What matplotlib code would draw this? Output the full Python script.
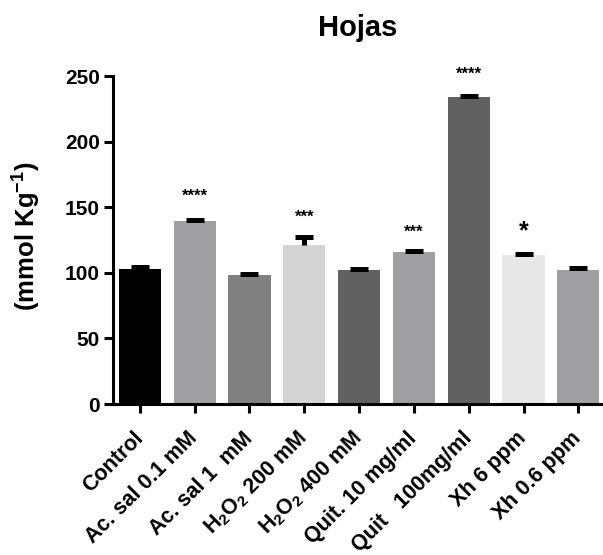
import numpy as np
import matplotlib.pyplot as plt

plt.rcParams['font.family'] = ['Liberation Sans', 'DejaVu Sans']
plt.rcParams['font.weight'] = 'bold'

labels = ['Control', 'Ac. sal 0.1 mM', 'Ac. sal 1  mM',
          r'H$\mathregular{_2}$O$\mathregular{_2}$ 200 mM',
          r'H$\mathregular{_2}$O$\mathregular{_2}$ 400 mM',
          'Quit. 10 mg/ml', 'Quit   100mg/ml', 'Xh 6 ppm', 'Xh 0.6 ppm']
values = [103.3, 139.3, 98.2, 121, 102.5, 115.9, 233.9, 113.9, 102.5]
errors = [0.8, 0.8, 0.8, 6.3, 0.8, 0.8, 0.6, 0.8, 1.2]
colors = ['#000000', '#a0a0a4', '#808080', '#d4d4d4', '#616161',
          '#a0a0a4', '#616161', '#e8e8e8', '#a0a0a4']
stars = ['', '****', '', '***', '', '***', '****', '*', '']
# vertical centre of the asterisks, in data units
star_y = [0, 162, 0, 146, 0, 134.5, 255, 137.5, 0]

fig, ax = plt.subplots(figsize=(6.03, 5.55), dpi=100)
fig.subplots_adjust(left=0.1874, right=1.0, top=0.863, bottom=0.272)

x = np.arange(len(labels))
ax.bar(x, values, width=0.77, color=colors, zorder=2)
eb = ax.errorbar(x, values, yerr=[np.zeros(len(x)), errors], fmt='none',
                 ecolor='black', elinewidth=3.6, capsize=6.5, capthick=3.6, zorder=3)
eb[1][0].set_visible(False)  # upper-only bars, no cap at the bar top

for xi, s, sy in zip(x, stars, star_y):
    if s:
        fs = 18 if s == '*' else 12
        off = 0.58 * fs / 0.72 / 1.314
        ax.text(xi, sy - off, s, ha='center', va='baseline', fontsize=fs)

ax.set_xlim(-0.49, 8.45)
ax.set_ylim(0, 250)
ax.set_yticks([0, 50, 100, 150, 200, 250])
ax.set_xticks(x)
ax.set_xticklabels(labels, rotation=45, ha='right', va='center',
                   rotation_mode='anchor', fontsize=15.5, fontweight='bold')
ax.tick_params(axis='y', labelsize=15, width=2.2, length=6.5, pad=3)
ax.tick_params(axis='x', width=2.2, length=6.5, pad=16)
for lab in ax.get_yticklabels():
    lab.set_fontweight('bold')

ax.spines['top'].set_visible(False)
ax.spines['right'].set_visible(False)
ax.spines['left'].set_linewidth(2.2)
ax.spines['bottom'].set_linewidth(2.2)

ax.set_ylabel(r'(mmol Kg$\mathregular{^{-1}}$)', fontsize=18.5, fontweight='bold')
ax.yaxis.set_label_coords(-0.143, 0.512)
ax.set_title('Hojas', fontsize=21, fontweight='bold', pad=29)

plt.savefig('out.png', dpi=100)
